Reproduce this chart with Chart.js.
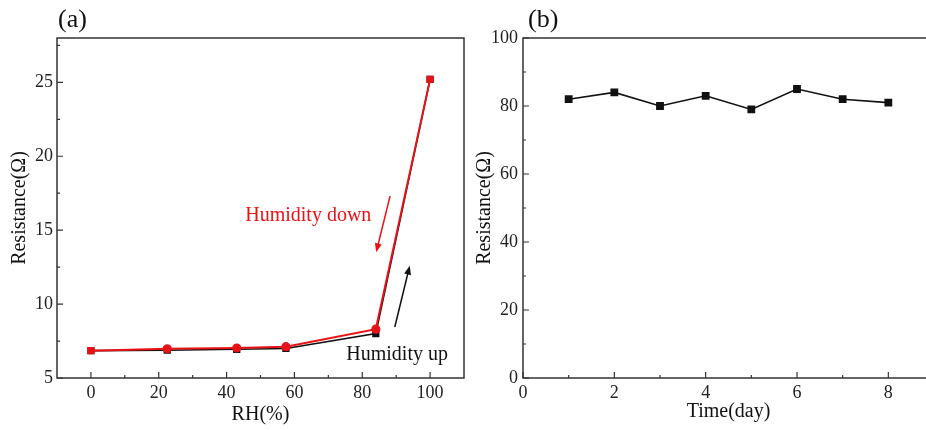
<!DOCTYPE html>
<html>
<head>
<meta charset="utf-8">
<script src="https://cdn.jsdelivr.net/npm/chart.js@4.4.1/dist/chart.umd.min.js"></script>
<style>
  html, body { margin: 0; padding: 0; background: #fff; overflow: hidden; width: 926px; height: 430px; }
  #wrapA { position: absolute; left: 0; top: 0; width: 470px; height: 430px; }
  #wrapB { position: absolute; left: 460px; top: 0; width: 480px; height: 430px; }
</style>
</head>
<body>
<div id="wrapA"><canvas id="chartA"></canvas></div>
<div id="wrapB"><canvas id="chartB"></canvas></div>
<script>
// panel (a): resistance vs relative humidity
const rh = [0, 22.5, 43, 57.5, 84, 100];
const resUp = [6.85, 6.88, 6.94, 7.0, 8.0, 25.2];
const resDown = [6.85, 6.98, 7.03, 7.12, 8.3, 25.2];
const downStyles = ['rect', 'circle', 'circle', 'circle', 'circle', 'rect'];

// panel (b): resistance over days
const days = [1, 2, 3, 4, 5, 6, 7, 8];
const resDay = [82, 84, 80, 83, 79, 85, 82, 81];

// tick labels
const rhTicks = [0, 20, 40, 60, 80, 100];
const rhMinor = [10, 30, 50, 70, 90];
const resATicks = [5, 10, 15, 20, 25];
const resAMinor = [7.5, 12.5, 17.5, 22.5, 27.5];
const dayTicks = [0, 2, 4, 6, 8];
const dayMinor = [1, 3, 5, 7];
const resBTicks = [0, 20, 40, 60, 80, 100];
const resBMinor = [10, 30, 50, 70, 90];

const RED = 'rgb(232, 18, 22)';
const SERIF = '"Liberation Serif", "Times New Roman", serif';
Chart.defaults.font.family = SERIF;
Chart.defaults.color = '#222';

const useTicks = arr => scale => { scale.ticks = arr.map(v => ({ value: v })); };

// box round the plot area with inward major and minor ticks
const framePlugin = {
  id: 'frame',
  beforeDatasetsDraw(chart, args, opts) {
    const { ctx, chartArea: a, scales } = chart;
    ctx.save();
    ctx.strokeStyle = '#333';
    ctx.lineWidth = 1.5;
    ctx.strokeRect(a.left, a.top, a.right - a.left, a.bottom - a.top);
    ctx.lineWidth = 1.2;
    ctx.beginPath();
    const xt = (vals, len) => vals.forEach(v => {
      const x = scales.x.getPixelForValue(v);
      ctx.moveTo(x, a.bottom); ctx.lineTo(x, a.bottom - len);
    });
    const yt = (vals, len) => vals.forEach(v => {
      const y = scales.y.getPixelForValue(v);
      ctx.moveTo(a.left, y); ctx.lineTo(a.left + len, y);
    });
    xt(opts.xMajor, 6); xt(opts.xMinor, 3);
    yt(opts.yMajor, 6); yt(opts.yMinor, 3);
    ctx.stroke();
    // panel letter
    ctx.fillStyle = '#111';
    ctx.font = '26px ' + SERIF;
    ctx.textBaseline = 'middle';
    ctx.textAlign = 'left';
    ctx.fillText(opts.letter, a.left + opts.letterDx, 20);
    ctx.restore();
  }
};

// text labels and arrows, placed in data units
const notePlugin = {
  id: 'notes',
  afterDatasetsDraw(chart, args, opts) {
    const { ctx, scales } = chart;
    const px = v => scales.x.getPixelForValue(v);
    const py = v => scales.y.getPixelForValue(v);
    ctx.save();
    (opts.texts || []).forEach(t => {
      ctx.fillStyle = t.color;
      ctx.font = '20px ' + SERIF;
      ctx.textBaseline = 'middle';
      ctx.textAlign = 'left';
      ctx.fillText(t.text, px(t.x), py(t.y));
    });
    (opts.arrows || []).forEach(r => {
      const x1 = px(r.from[0]), y1 = py(r.from[1]);
      const x2 = px(r.to[0]), y2 = py(r.to[1]);
      const ang = Math.atan2(y2 - y1, x2 - x1);
      ctx.strokeStyle = r.color;
      ctx.fillStyle = r.color;
      ctx.lineWidth = 1.5;
      ctx.beginPath();
      ctx.moveTo(x1, y1);
      ctx.lineTo(x2 - 6 * Math.cos(ang), y2 - 6 * Math.sin(ang));
      ctx.stroke();
      ctx.beginPath();
      ctx.moveTo(x2, y2);
      ctx.lineTo(x2 - 9 * Math.cos(ang) + 3.5 * Math.sin(ang), y2 - 9 * Math.sin(ang) - 3.5 * Math.cos(ang));
      ctx.lineTo(x2 - 9 * Math.cos(ang) - 3.5 * Math.sin(ang), y2 - 9 * Math.sin(ang) + 3.5 * Math.cos(ang));
      ctx.closePath();
      ctx.fill();
    });
    ctx.restore();
  }
};

function axisX(min, max, ticks, title, titlePad, height) {
  return {
    type: 'linear', min, max,
    afterBuildTicks: useTicks(ticks),
    afterFit: s => { s.height = height; },
    grid: { display: false, drawTicks: false },
    border: { display: false },
    ticks: { font: { size: 18 }, padding: 4, maxRotation: 0, color: '#222' },
    title: { display: true, text: title, font: { size: 20 }, color: '#111', padding: { bottom: titlePad } }
  };
}

function axisY(min, max, ticks, title, titlePad, width, labelPad) {
  return {
    type: 'linear', min, max,
    afterBuildTicks: useTicks(ticks),
    afterFit: s => { s.width = width; },
    grid: { display: false, drawTicks: false },
    border: { display: false },
    ticks: { font: { size: 18 }, padding: labelPad, color: '#222' },
    title: { display: true, text: title, font: { size: 20 }, color: '#111', padding: { top: titlePad } }
  };
}

new Chart(document.getElementById('chartA'), {
  type: 'line',
  data: {
    labels: rh,
    datasets: [{
      label: 'Humidity down',
      data: rh.map((x, i) => ({ x, y: resDown[i] })),
      borderColor: RED,
      backgroundColor: RED,
      borderWidth: 2,
      pointStyle: downStyles,
      pointRadius: 3.6,
      tension: 0
    }, {
      label: 'Humidity up',
      data: rh.map((x, i) => ({ x, y: resUp[i] })),
      borderColor: '#111',
      backgroundColor: '#111',
      borderWidth: 1.6,
      pointStyle: 'rect',
      pointRadius: 4,
      tension: 0
    }]
  },
  options: {
    responsive: true,
    maintainAspectRatio: false,
    animation: false,
    layout: { padding: { left: 0, right: 4, top: 38, bottom: 0 } },
    plugins: {
      legend: { display: false },
      tooltip: { enabled: false },
      frame: { xMajor: rhTicks, xMinor: rhMinor, yMajor: resATicks, yMinor: resAMinor, letter: '(a)', letterDx: 1 },
      notes: {
        texts: [
          { text: 'Humidity down', x: 45.5, y: 15.95, color: RED },
          { text: 'Humidity up', x: 75.3, y: 6.56, color: '#111' }
        ],
        arrows: [
          { from: [88.2, 17.3], to: [84.1, 13.5], color: RED },
          { from: [89.6, 8.45], to: [94.0, 12.6], color: '#111' }
        ]
      }
    },
    scales: {
      x: axisX(-10, 110, rhTicks, 'RH(%)', 3, 52),
      y: axisY(5, 28, resATicks, 'Resistance(Ω)', 8, 57, 4)
    }
  },
  plugins: [framePlugin, notePlugin]
});

new Chart(document.getElementById('chartB'), {
  type: 'line',
  data: {
    labels: days,
    datasets: [{
      label: 'Resistance',
      data: days.map((x, i) => ({ x, y: resDay[i] })),
      borderColor: '#111',
      backgroundColor: '#111',
      borderWidth: 1.6,
      pointStyle: 'rect',
      pointRadius: 4.4,
      tension: 0
    }]
  },
  options: {
    responsive: true,
    maintainAspectRatio: false,
    animation: false,
    layout: { padding: { left: 0, right: 5, top: 38, bottom: 0 } },
    plugins: {
      legend: { display: false },
      tooltip: { enabled: false },
      frame: { xMajor: dayTicks, xMinor: dayMinor, yMajor: resBTicks, yMinor: resBMinor, letter: '(b)', letterDx: 5 },
      notes: {}
    },
    scales: {
      x: axisX(0, 9, dayTicks, 'Time(day)', 6, 52),
      y: axisY(0, 100, resBTicks, 'Resistance(Ω)', 13, 63, 5)
    }
  },
  plugins: [framePlugin, notePlugin]
});
</script>
</body>
</html>
